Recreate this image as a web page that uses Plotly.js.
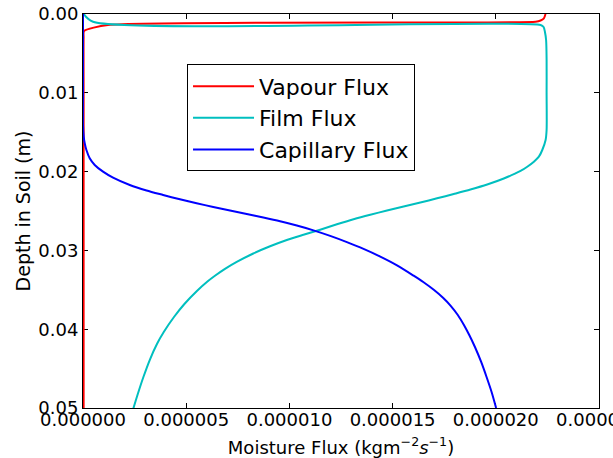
<!DOCTYPE html>
<html>
<head>
<meta charset="utf-8">
<script src="https://cdn.plot.ly/plotly-3.0.1.min.js"></script>
<style>
html,body{margin:0;padding:0;background:#fff;}
#chart{width:613px;height:458px;}
</style>
</head>
<body>
<div id="chart"></div>
<script>
// Depths (m) and fluxes (kg m^-2 s^-1)
const vapourDepth = [0, 0.00055, 0.00083, 0.00098, 0.0014, 0.00216, 0.003, 0.01, 0.02, 0.03, 0.04, 0.05];
const vapourFlux  = [22.41e-6, 22.33e-6, 22.17e-6, 21.93e-6, 1.21e-6, 0.05e-6, 0.03e-6, 0.03e-6, 0.03e-6, 0.03e-6, 0.03e-6, 0.03e-6];

const filmDepth = [0, 0.000977, 0.001396, 0.00165, 0.002246, 0.0033, 0.00584, 0.01, 0.01472, 0.01599, 0.01726, 0.01811, 0.01874, 0.01938, 0.01992, 0.02088, 0.02164, 0.02227, 0.02284, 0.02339, 0.02392, 0.02443, 0.02494, 0.02547, 0.02604, 0.02668, 0.02737, 0.02801, 0.02868, 0.02948, 0.03039, 0.03145, 0.03234, 0.03322, 0.03395, 0.03515, 0.0368, 0.03845, 0.04036, 0.04188, 0.04391, 0.04607, 0.0481, 0.05004];
const filmFlux  = [0.034e-6, 0.485e-6, 22.17e-6, 22.316e-6, 22.379e-6, 22.437e-6, 22.461e-6, 22.461e-6, 22.461e-6, 22.413e-6, 22.252e-6, 22.087e-6, 21.845e-6, 21.524e-6, 21.199e-6, 20.388e-6, 19.583e-6, 18.772e-6, 17.961e-6, 17.155e-6, 16.345e-6, 15.534e-6, 14.728e-6, 13.917e-6, 13.107e-6, 12.301e-6, 11.49e-6, 10.68e-6, 9.874e-6, 9.063e-6, 8.252e-6, 7.447e-6, 6.879e-6, 6.393e-6, 6.029e-6, 5.519e-6, 4.913e-6, 4.408e-6, 3.913e-6, 3.583e-6, 3.233e-6, 2.927e-6, 2.67e-6, 2.442e-6];

const capDepth = [0, 0.005, 0.01, 0.01409, 0.01557, 0.01641, 0.01726, 0.01831, 0.01916, 0.02001, 0.02077, 0.0217, 0.0224, 0.02297, 0.02352, 0.02402, 0.02449, 0.02494, 0.02538, 0.02583, 0.02631, 0.02685, 0.02746, 0.02816, 0.02895, 0.02981, 0.03079, 0.0319, 0.03321, 0.03401, 0.03503, 0.03604, 0.03706, 0.0382, 0.03947, 0.04074, 0.04226, 0.04416, 0.04607, 0.04797, 0.05];
const capFlux  = [0, 0, 0, 0, 0.034e-6, 0.083e-6, 0.165e-6, 0.325e-6, 0.568e-6, 0.971e-6, 1.456e-6, 2.267e-6, 3.078e-6, 3.883e-6, 4.694e-6, 5.505e-6, 6.311e-6, 7.121e-6, 7.932e-6, 8.738e-6, 9.549e-6, 10.359e-6, 11.165e-6, 11.976e-6, 12.786e-6, 13.592e-6, 14.403e-6, 15.214e-6, 16.019e-6, 16.485e-6, 17.01e-6, 17.456e-6, 17.825e-6, 18.16e-6, 18.456e-6, 18.714e-6, 18.99e-6, 19.291e-6, 19.553e-6, 19.796e-6, 20.015e-6];

const xTicks = [0, 0.000005, 0.00001, 0.000015, 0.00002, 0.000025];
const yTicks = [0, 0.01, 0.02, 0.03, 0.04, 0.05];

const font = 'DejaVu Sans, sans-serif';

const traces = [
  {x: vapourFlux, y: vapourDepth, mode: 'lines', name: 'Vapour Flux', legendgroup: 'a',
   line: {color: '#ff0000', width: 2, shape: 'spline', smoothing: 0.6}},
  {x: filmFlux, y: filmDepth, mode: 'lines', name: 'Film Flux', legendgroup: 'b',
   line: {color: '#00bfbf', width: 2, shape: 'spline', smoothing: 0.8}},
  {x: capFlux, y: capDepth, mode: 'lines', name: 'Capillary Flux', legendgroup: 'c',
   line: {color: '#0000ff', width: 2, shape: 'spline', smoothing: 0.8}}
];

const layout = {
  width: 613, height: 458,
  margin: {l: 83, r: 14, t: 14, b: 50, pad: 0},
  paper_bgcolor: '#ffffff', plot_bgcolor: '#ffffff',
  font: {family: font, size: 18, color: '#000'},
  showlegend: true,
  legend: {
    x: 0.2016, y: 0.872, xanchor: 'left', yanchor: 'top',
    bordercolor: '#000', borderwidth: 1, bgcolor: '#fff',
    font: {family: font, size: 22, color: '#000'},
    itemwidth: 61, tracegroupgap: 0, traceorder: 'grouped'
  },
  xaxis: {
    range: [0, 0.000025], tickvals: xTicks, tickformat: '.6f', tickangle: 0,
    ticks: 'inside', ticklen: 5, tickcolor: '#000', tickwidth: 1,
    showline: true, linecolor: '#000', linewidth: 1, mirror: 'ticks',
    showgrid: false, zeroline: false, ticklabeloverflow: 'allow',
    ticklabelstandoff: -5,
    tickfont: {family: font, size: 18, color: '#000'},
    layer: 'below traces',
    title: {text: 'Moisture Flux (kgm<sup>−2</sup><i>s</i><sup>−1</sup>)', font: {family: font, size: 18, color: '#000'}, standoff: 13}
  },
  yaxis: {
    range: [0.05, 0], tickvals: yTicks, tickformat: '.2f',
    ticks: 'inside', ticklen: 5, tickcolor: '#000', tickwidth: 1,
    showline: true, linecolor: '#000', linewidth: 1, mirror: 'ticks',
    showgrid: false, zeroline: false, ticklabeloverflow: 'allow',
    tickfont: {family: font, size: 18, color: '#000'},
    layer: 'below traces',
    title: {text: 'Depth in Soil (m)', font: {family: font, size: 19, color: '#000'}, standoff: 2}
  }
};

Plotly.newPlot('chart', traces, layout, {displayModeBar: false, staticPlot: true});
</script>
</body>
</html>
